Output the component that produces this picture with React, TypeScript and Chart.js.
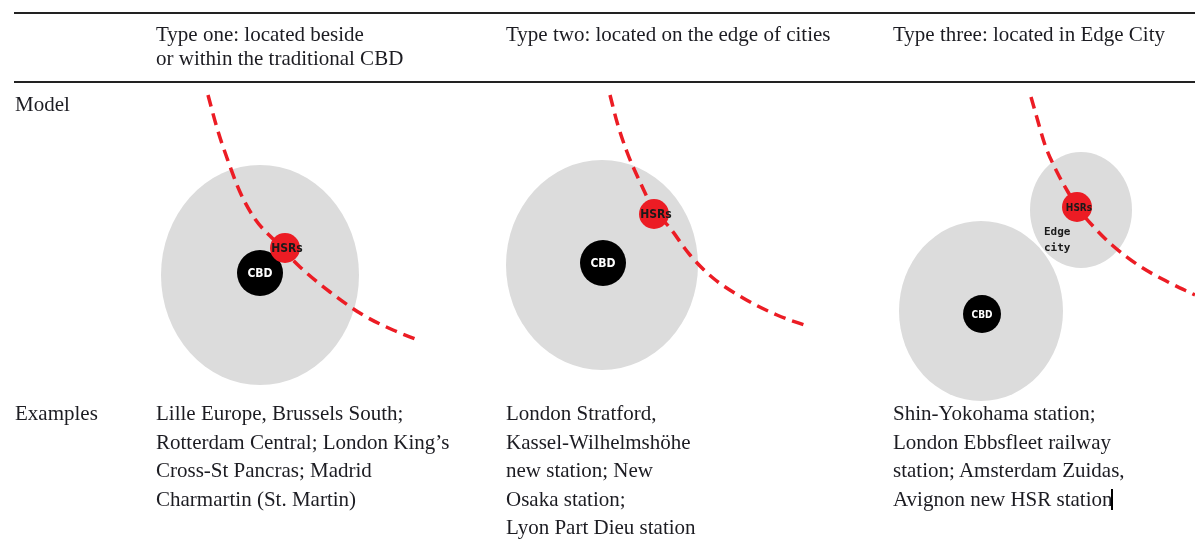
import React, { useEffect, useRef } from "react";
import { Chart, registerables } from "chart.js";

Chart.register(...registerables);

// ---------- data ----------
const rowLabels = ["Model", "Examples"];
const typeHeaders = [
  ["Type one: located beside", "or within the traditional CBD"],
  ["Type two: located on the edge of cities"],
  ["Type three: located in Edge City"],
];
const examples = [
  ["Lille Europe, Brussels South;", "Rotterdam Central; London King’s", "Cross-St Pancras; Madrid", "Charmartin (St. Martin)"],
  ["London Stratford,", "Kassel-Wilhelmshöhe", "new station; New", "Osaka station;", "Lyon Part Dieu station"],
  ["Shin-Yokohama station;", "London Ebbsfleet railway", "station; Amsterdam Zuidas,", "Avignon new HSR station"],
];

// urban areas (grey)
const urbanX = [260, 602, 981, 1081];
const urbanY = [275, 265, 311, 210];
// CBD (black)
const cbdX = [260, 603, 982];
const cbdY = [273, 263, 314];
const cbdLabels = ["CBD", "CBD", "CBD"];
// HSR stations (red)
const hsrX = [285, 654, 1077];
const hsrY = [248, 214, 207];
const hsrLabels = ["HSRs", "HSRs", "HSRs"];
// edge city label
const edgeCityX = [1044];
const edgeCityY = [232];
const edgeCityLabel = ["Edge", "city"];

// HSR lines (dashed)
const rail1X = [208, 217, 227, 240, 255, 276, 300, 330, 363, 393, 418];
const rail1Y = [95, 128, 158, 192, 219, 242, 267, 292, 315, 330, 340];
const rail2X = [610, 617, 627, 640, 653, 670, 690, 713, 743, 777, 810];
const rail2Y = [95, 122, 152, 182, 208, 228, 255, 278, 298, 315, 327];
const rail3X = [1031, 1037, 1045, 1057, 1068, 1078, 1092, 1112, 1138, 1168, 1195];
const rail3Y = [97, 118, 145, 172, 192, 208, 225, 245, 265, 282, 295];

// ---------- helpers ----------
const W = 1195;
const H = 542;
const zip = (xs: number[], ys: number[]) => xs.map((x, i) => ({ x, y: ys[i] }));

function ellipse(rx: number, ry: number, color: string) {
  const c = document.createElement("canvas");
  c.width = Math.round(rx * 2);
  c.height = Math.round(ry * 2);
  const ctx = c.getContext("2d")!;
  ctx.fillStyle = color;
  ctx.beginPath();
  ctx.ellipse(rx, ry, rx, ry, 0, 0, Math.PI * 2);
  ctx.fill();
  return c;
}

const RED = "#ec1c24";
const GREY = "#dcdcdc";
const SERIF = "'Liberation Serif', 'Times New Roman', serif";

const labelPlugin = {
  id: "diagramLabels",
  afterDatasetsDraw(chart: any) {
    const ctx = chart.ctx;
    const xs = chart.scales.x;
    const ys = chart.scales.y;
    ctx.save();
    ctx.textAlign = "center";
    ctx.textBaseline = "middle";
    cbdX.forEach((x, i) => {
      ctx.fillStyle = "#ffffff";
      ctx.font = `bold ${i === 2 ? 10 : 12}px 'DejaVu Sans Condensed', 'DejaVu Sans', sans-serif`;
      ctx.fillText(cbdLabels[i], xs.getPixelForValue(x), ys.getPixelForValue(cbdY[i]) + 1);
    });
    hsrX.forEach((x, i) => {
      ctx.fillStyle = "#1a1a1a";
      ctx.font = `bold ${i === 2 ? 10 : 12}px 'DejaVu Sans Condensed', 'DejaVu Sans', sans-serif`;
      ctx.fillText(hsrLabels[i], xs.getPixelForValue(x) + 2, ys.getPixelForValue(hsrY[i]) + 1);
    });
    ctx.fillStyle = "#1a1a1a";
    ctx.font = "bold 11px 'DejaVu Sans Mono', monospace";
    ctx.textAlign = "left";
    edgeCityLabel.forEach((t, i) => {
      ctx.fillText(t, xs.getPixelForValue(edgeCityX[0]), ys.getPixelForValue(edgeCityY[0]) + i * 16);
    });
    ctx.restore();
  },
};

function DiagramChart() {
  const ref = useRef<HTMLCanvasElement | null>(null);
  useEffect(() => {
    if (!ref.current) return;
    const urbanStyles = [
      ellipse(99, 110, GREY),
      ellipse(96, 105, GREY),
      ellipse(82, 90, GREY),
      ellipse(51, 58, GREY),
    ];
    const railDs = (xs: number[], ys: number[], label: string) => ({
      type: "line" as const,
      label,
      data: zip(xs, ys),
      borderColor: RED,
      borderWidth: 3.5,
      borderDash: [12, 7],
      borderCapStyle: "butt" as const,
      pointRadius: 0,
      cubicInterpolationMode: "monotone" as const,
      fill: false,
      clip: false,
      order: 4,
    });
    const chart = new Chart(ref.current, {
      type: "scatter",
      data: {
        datasets: [
          {
            label: "Urban area",
            data: zip(urbanX, urbanY),
            pointStyle: urbanStyles as any,
            pointRadius: 10,
            clip: false,
            order: 5,
          },
          railDs(rail1X, rail1Y, "HSR line 1"),
          railDs(rail2X, rail2Y, "HSR line 2"),
          railDs(rail3X, rail3Y, "HSR line 3"),
          {
            label: "CBD",
            data: zip(cbdX, cbdY),
            backgroundColor: "#000000",
            borderWidth: 0,
            pointRadius: [23, 23, 19],
            clip: false,
            order: 3,
          },
          {
            label: "HSRs",
            data: zip(hsrX, hsrY),
            backgroundColor: RED,
            borderWidth: 0,
            pointRadius: [15, 15, 15],
            clip: false,
            order: 2,
          },
        ] as any,
      },
      options: {
        animation: false,
        responsive: true,
        maintainAspectRatio: false,
        layout: { padding: 0, autoPadding: false },
        events: [],
        plugins: { legend: { display: false }, tooltip: { enabled: false } },
        scales: {
          x: { type: "linear", min: 0, max: W, display: false },
          y: { type: "linear", min: 0, max: H, reverse: true, display: false },
        },
      } as any,
      plugins: [labelPlugin],
    });
    return () => chart.destroy();
  }, []);
  return (
    <div style={{ position: "absolute", left: 0, top: 0, width: W, height: H }}>
      <canvas ref={ref} />
    </div>
  );
}

const textStyle: React.CSSProperties = {
  position: "absolute",
  fontFamily: SERIF,
  fontSize: 21,
  color: "#1c1c22",
  whiteSpace: "nowrap",
};

export default function App() {
  const colX = [156, 506, 893];
  return (
    <div style={{ position: "absolute", left: 0, top: 0, width: W, height: H, background: "#fff", overflow: "hidden" }}>
      <DiagramChart />
      <div style={{ position: "absolute", left: 14, right: 0, top: 12, height: 2, background: "#222" }} />
      <div style={{ position: "absolute", left: 14, right: 0, top: 81, height: 2, background: "#222" }} />
      {typeHeaders.map((lines, i) => (
        <div key={i} style={{ ...textStyle, left: colX[i], top: 22, lineHeight: "24px" }}>
          {lines.map((l, j) => (
            <div key={j}>{l}</div>
          ))}
        </div>
      ))}
      <div style={{ ...textStyle, left: 15, top: 92, lineHeight: "24px" }}>{rowLabels[0]}</div>
      <div style={{ ...textStyle, left: 15, top: 399, lineHeight: "28.5px" }}>{rowLabels[1]}</div>
      {examples.map((lines, i) => (
        <div key={i} style={{ ...textStyle, left: colX[i], top: 399, lineHeight: "28.5px" }}>
          {lines.map((l, j) => (
            <div key={j}>{l}</div>
          ))}
        </div>
      ))}
      <div style={{ position: "absolute", left: 1111, top: 489, width: 2, height: 21, background: "#000" }} />
    </div>
  );
}
